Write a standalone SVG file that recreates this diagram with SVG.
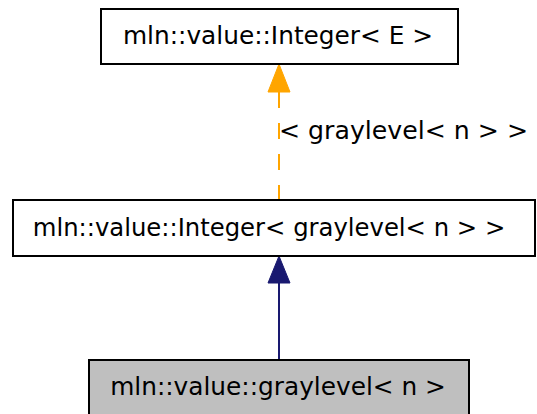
<svg xmlns="http://www.w3.org/2000/svg" width="537" height="414" viewBox="0 0 537 414">
<style>
.box{fill:#ffffff;stroke:#000000;stroke-width:2}
.cur{fill:#bfbfbf;stroke:#000000;stroke-width:2}
text{font-family:"DejaVu Sans",sans-serif;font-size:24.8px;fill:#000000}
.c{text-anchor:middle}
</style>
<rect width="537" height="414" fill="#ffffff"/>
<g id="edges">
<line x1="279" y1="92" x2="279" y2="200" stroke="#ffa500" stroke-width="2" stroke-dasharray="16,15"/>
<polygon points="279,64 268,92 290,92" fill="#ffa500" stroke="#ffa500" stroke-width="1"/>
<text x="279" y="139" style="font-size:25.2px">&lt; graylevel&lt; n &gt; &gt;</text>
<line x1="279" y1="283" x2="279" y2="360" stroke="#191970" stroke-width="2"/>
<polygon points="279,256 268,283 290,283" fill="#191970" stroke="#191970" stroke-width="1"/>
</g>
<g id="node_integer_e">
<rect class="box" x="101" y="9" width="357" height="55"/>
<text class="c" x="278" y="44">mln::value::Integer&lt; E &gt;</text>
</g>
<g id="node_integer_graylevel">
<rect class="box" x="13" y="200" width="522" height="56"/>
<text class="c" x="269" y="236" style="font-size:24.3px">mln::value::Integer&lt; graylevel&lt; n &gt; &gt;</text>
</g>
<g id="node_graylevel">
<rect class="cur" x="89" y="360" width="380" height="57"/>
<text class="c" x="278" y="395">mln::value::graylevel&lt; n &gt;</text>
</g>
</svg>
